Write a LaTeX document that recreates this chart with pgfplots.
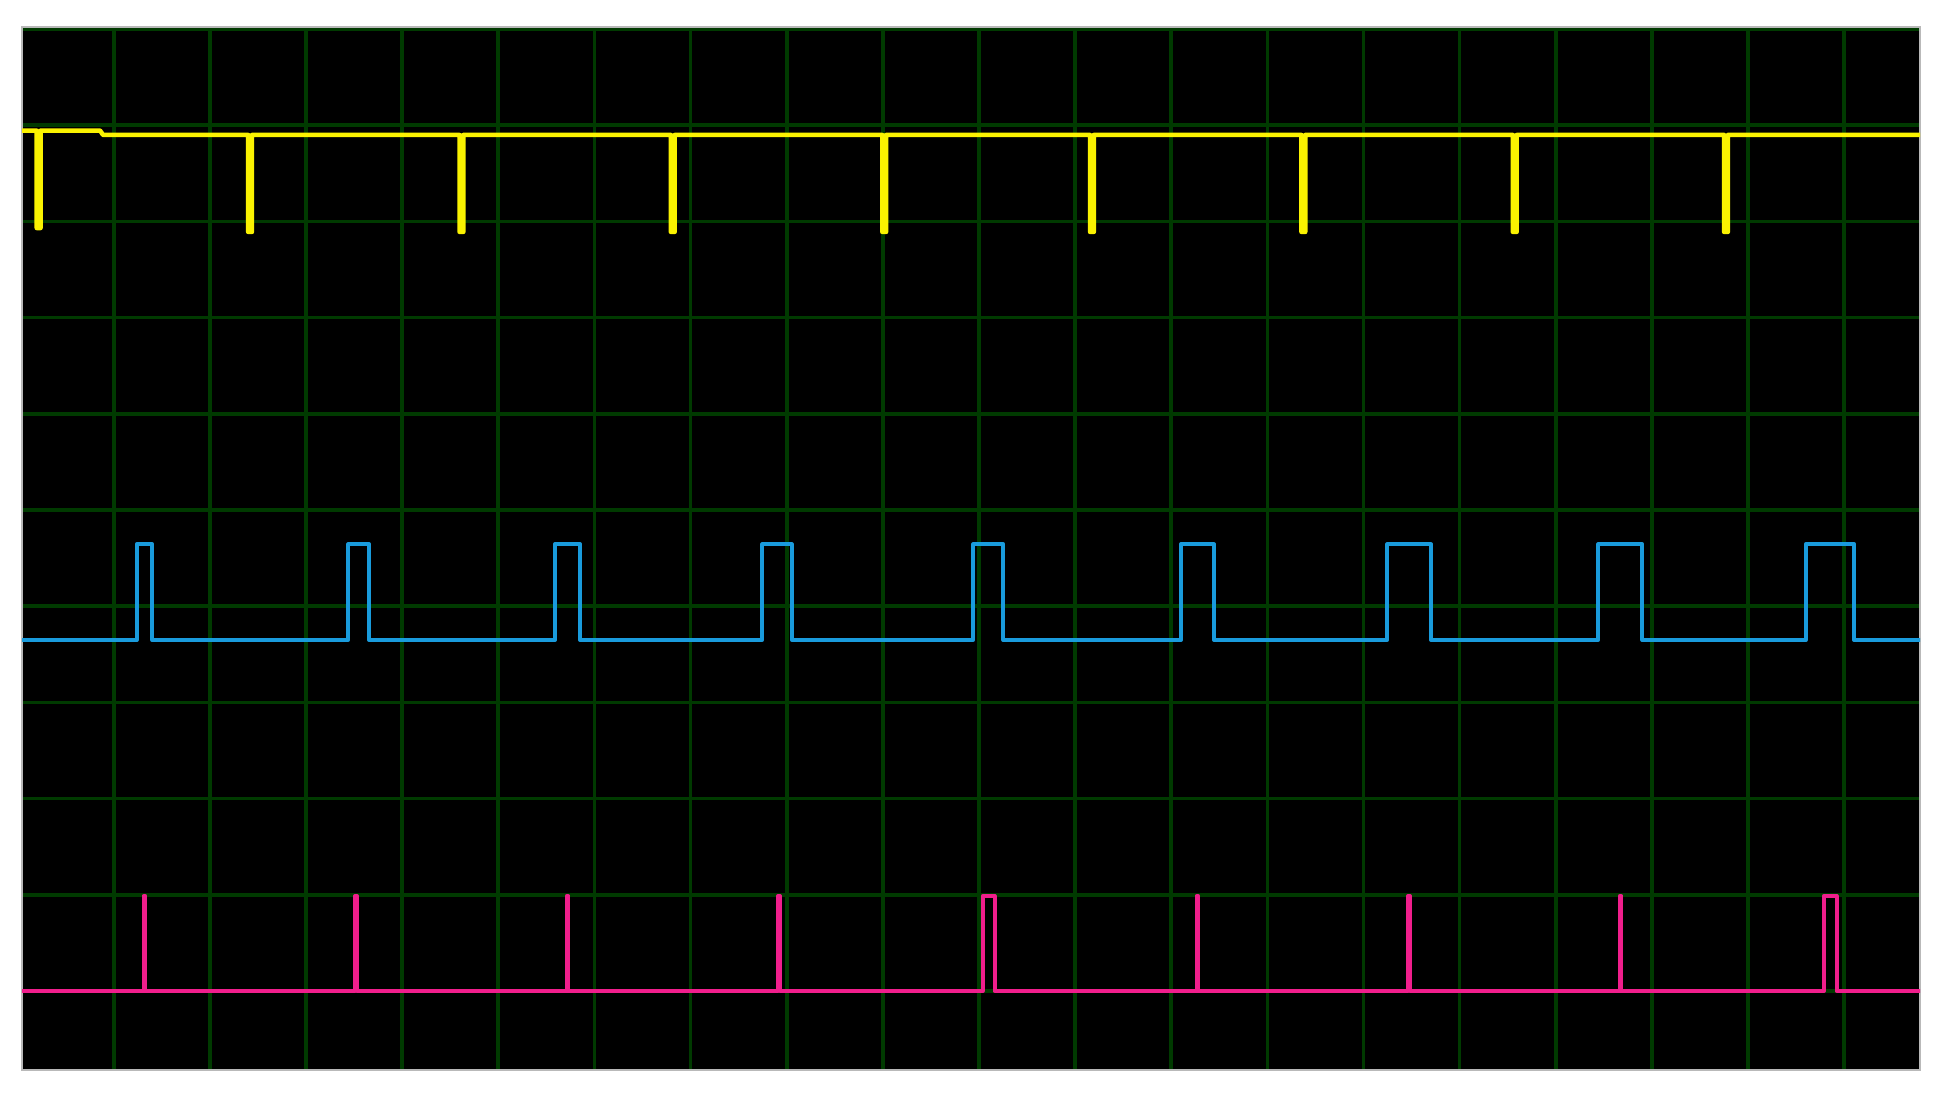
\documentclass[border=0pt]{standalone}
\usepackage{pgfplots}
\pgfplotsset{compat=1.18}
\definecolor{scopegrid}{RGB}{0,58,0}
\definecolor{trYellow}{RGB}{250,242,0}
\definecolor{trBlue}{RGB}{25,155,220}
\definecolor{trPink}{RGB}{240,30,140}
\begin{document}
\begin{tikzpicture}
\begin{axis}[
  at={(0,0)}, anchor=south west,
  width=18.98cm, height=10.43cm, scale only axis,
  xmin=-0.954, xmax=18.788, ymin=-0.821, ymax=10.02,
  axis background/.style={fill=black},
  axis line style={draw=gray!55, line width=0.012cm},
  xtick={0,...,18}, ytick={0,...,10},
  xticklabels={}, yticklabels={},
  major tick length=0pt,
  grid=major,
  major grid style={draw=scopegrid, line width=0.036cm},
  every axis plot/.append style={line join=round, line cap=round, mark=none},
]
% channel 1 (yellow), negative spikes
\addplot[trYellow, line width=0.045cm] coordinates {
  (-0.954,8.943) (-0.801,8.943) (-0.801,7.93) (-0.761,7.93) (-0.761,8.943)
  (-0.142,8.943) (-0.111,8.898)
  (1.398,8.898) (1.398,7.89) (1.438,7.89) (1.438,8.898)
  (3.597,8.898) (3.597,7.89) (3.637,7.89) (3.637,8.898)
  (5.795,8.898) (5.795,7.89) (5.835,7.89) (5.835,8.898)
  (7.994,8.898) (7.994,7.89) (8.034,7.89) (8.034,8.898)
  (10.155,8.898) (10.155,7.89) (10.195,7.89) (10.195,8.898)
  (12.354,8.898) (12.354,7.89) (12.394,7.89) (12.394,8.898)
  (14.553,8.898) (14.553,7.89) (14.593,7.89) (14.593,8.898)
  (16.750,8.898) (16.750,7.89) (16.790,7.89) (16.790,8.898)
  (18.788,8.898)
};
% channel 2 (blue), widening pulses
\addplot[trBlue, line width=0.04cm] coordinates {
  (-0.954,3.649)
  (0.239,3.649) (0.239,4.643) (0.401,4.643) (0.401,3.649)
  (2.440,3.649) (2.440,4.643) (2.655,4.643) (2.655,3.649)
  (4.590,3.649) (4.590,4.643) (4.850,4.643) (4.850,3.649)
  (6.746,3.649) (6.746,4.643) (7.052,4.643) (7.052,3.649)
  (8.941,3.649) (8.941,4.643) (9.253,4.643) (9.253,3.649)
  (11.101,3.649) (11.101,4.643) (11.444,4.643) (11.444,3.649)
  (13.247,3.649) (13.247,4.643) (13.701,4.643) (13.701,3.649)
  (15.442,3.649) (15.442,4.643) (15.900,4.643) (15.900,3.649)
  (17.600,3.649) (17.600,4.643) (18.104,4.643) (18.104,3.649)
  (18.788,3.649)
};
% channel 3 (pink), short positive spikes
\addplot[trPink, line width=0.04cm] coordinates {
  (-0.954,0)
  (0.311,0) (0.311,0.988) (0.327,0.988) (0.327,0)
  (2.512,0) (2.512,0.988) (2.528,0.988) (2.528,0)
  (4.714,0) (4.714,0.988) (4.730,0.988) (4.730,0)
  (6.912,0) (6.912,0.988) (6.928,0.988) (6.928,0)
  (9.039,0) (9.039,0.988) (9.162,0.988) (9.162,0)
  (11.263,0) (11.263,0.988) (11.279,0.988) (11.279,0)
  (13.465,0) (13.465,0.988) (13.481,0.988) (13.481,0)
  (15.667,0) (15.667,0.988) (15.683,0.988) (15.683,0)
  (17.789,0) (17.789,0.988) (17.921,0.988) (17.921,0)
  (18.788,0)
};
\end{axis}
\pgfresetboundingbox
\path[use as bounding box] (-0.22cm,-0.25cm) rectangle (19.28cm,10.70cm);
\end{tikzpicture}
\end{document}
